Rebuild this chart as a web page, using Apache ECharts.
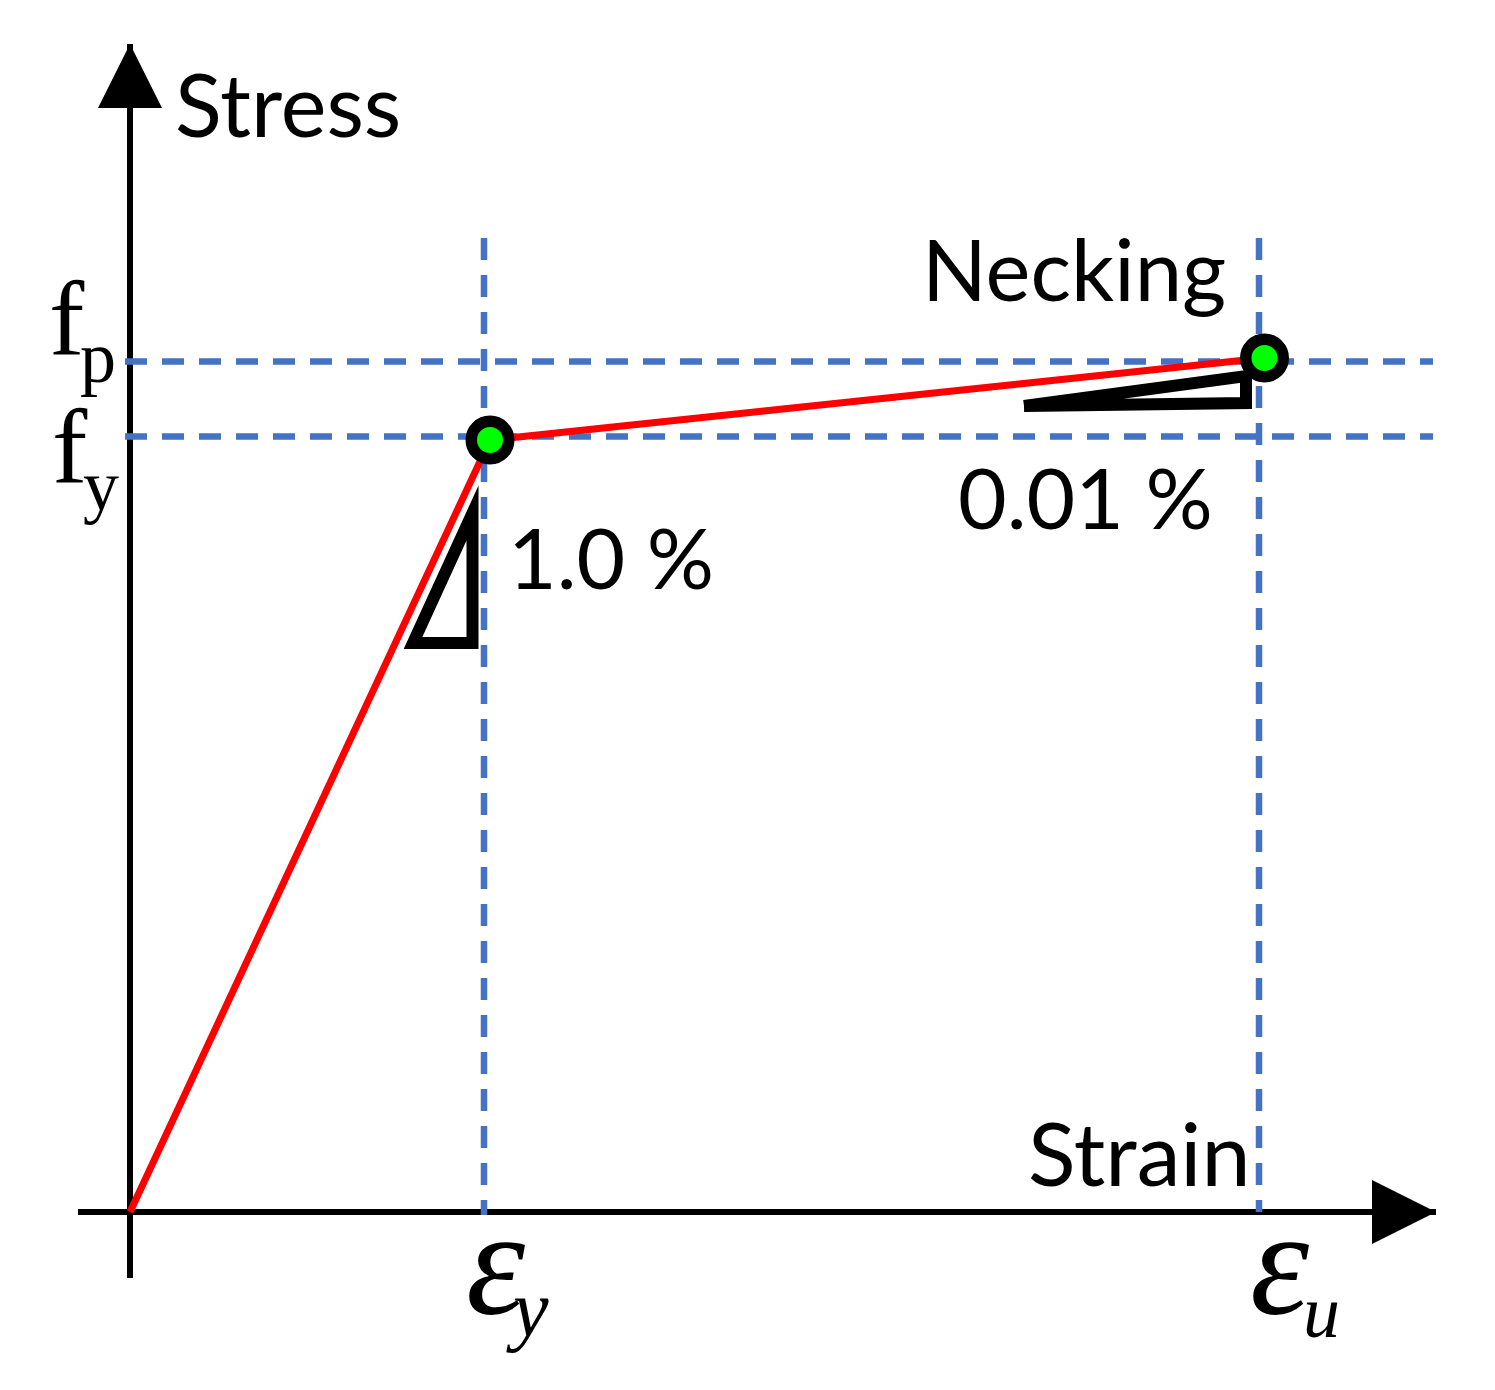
<!DOCTYPE html>
<html lang="en">
<head>
  <meta charset="UTF-8">
  <title>Stress-strain curve</title>
  <script src="https://cdn.jsdelivr.net/npm/echarts@6/dist/echarts.min.js"></script>
  <style>body { margin: 0; background: #fff; }</style>
</head>
<body>
<div id="chart" style="width: 1495px; height: 1390px;"></div>
<script>
// values are in picture units, origin at the axes crossing
const curve = [[0, 0], [360, 772], [1134.5, 854]];
const keyPoints = [[360, 772], [1134.5, 854]];
const fyLine = [[-5, 775.5], [1303, 775.5]];
const fpLine = [[-5, 850.5], [1303, 850.5]];
const eyLine = [[354, 974], [354, -3]];
const euLine = [[1129, 974], [1129, 0]];
const slopeElastic = [[342.5, 632], [342.5, 569], [283, 569], [342.5, 699], [342.5, 632]];
const slopeHardening = [[894, 806], [1116, 809], [1116, 836], [894, 806]];

const SANS = 'Lato';
const SERIF = 'Liberation Serif';

function label(text, x, y, size, family, italic) {
  return {
    type: 'text', x: x, y: y, z: 100,
    style: {
      text: text, fill: '#000', fontSize: size, fontFamily: family,
      fontStyle: italic ? 'italic' : 'normal',
      align: 'left', verticalAlign: 'middle'
    }
  };
}

function dashed(data) {
  return {
    type: 'line', data: data, symbol: 'none', silent: true, z: 3,
    lineStyle: { color: '#4472C4', width: 6.5, type: [22, 15], cap: 'butt' }
  };
}

function slope(data) {
  return {
    type: 'line', data: data, symbol: 'none', silent: true, z: 4,
    lineStyle: { color: '#000', width: 12, join: 'miter', miterLimit: 20, cap: 'butt' }
  };
}

const chart = echarts.init(document.getElementById('chart'));
chart.setOption({
  animation: false,
  backgroundColor: '#fff',
  grid: { left: 78, right: 59, top: 44, bottom: 112 },
  xAxis: {
    type: 'value', min: -52, max: 1306,
    axisLine: { onZero: true, symbol: ['none', 'triangle'], symbolSize: [64, 64], symbolOffset: [0, -32],
      lineStyle: { color: '#000', width: 6, cap: 'butt' } },
    axisTick: { show: false }, axisLabel: { show: false }, splitLine: { show: false }
  },
  yAxis: {
    type: 'value', min: -66, max: 1168,
    axisLine: { onZero: true, symbol: ['none', 'triangle'], symbolSize: [64, 64], symbolOffset: [0, -32],
      lineStyle: { color: '#000', width: 6, cap: 'butt' } },
    axisTick: { show: false }, axisLabel: { show: false }, splitLine: { show: false }
  },
  series: [
    dashed(fyLine), dashed(fpLine), dashed(eyLine), dashed(euLine),
    slope(slopeElastic), slope(slopeHardening),
    { type: 'line', data: curve, symbol: 'none', silent: true, z: 5,
      lineStyle: { color: '#FF0000', width: 7 } },
    { type: 'scatter', data: keyPoints, symbol: 'circle', symbolSize: 37.5, silent: true, z: 6,
      itemStyle: { color: '#00FF00', borderColor: '#000', borderWidth: 11.5, opacity: 1 } }
  ],
  graphic: [
    label('Stress', 175, 109, 86.5, SANS),
    label('Necking', 922, 274, 85, SANS),
    label('0.01 %', 958, 502, 84, SANS),
    label('1.0 %', 508, 562, 84, SANS),
    label('Strain', 1028, 1158, 88, SANS),
    label('f', 49, 326, 106, SERIF),
    label('p', 80, 363, 72, SERIF),
    label('f', 52, 454, 106, SERIF),
    label('y', 83, 491, 72, SERIF),
    label('ε', 466, 1275, 150, SERIF, true),
    label('y', 513, 1315, 80, SERIF, true),
    label('ε', 1250, 1275, 150, SERIF, true),
    label('u', 1303, 1318, 74, SERIF, true)
  ]
});
</script>
</body>
</html>
